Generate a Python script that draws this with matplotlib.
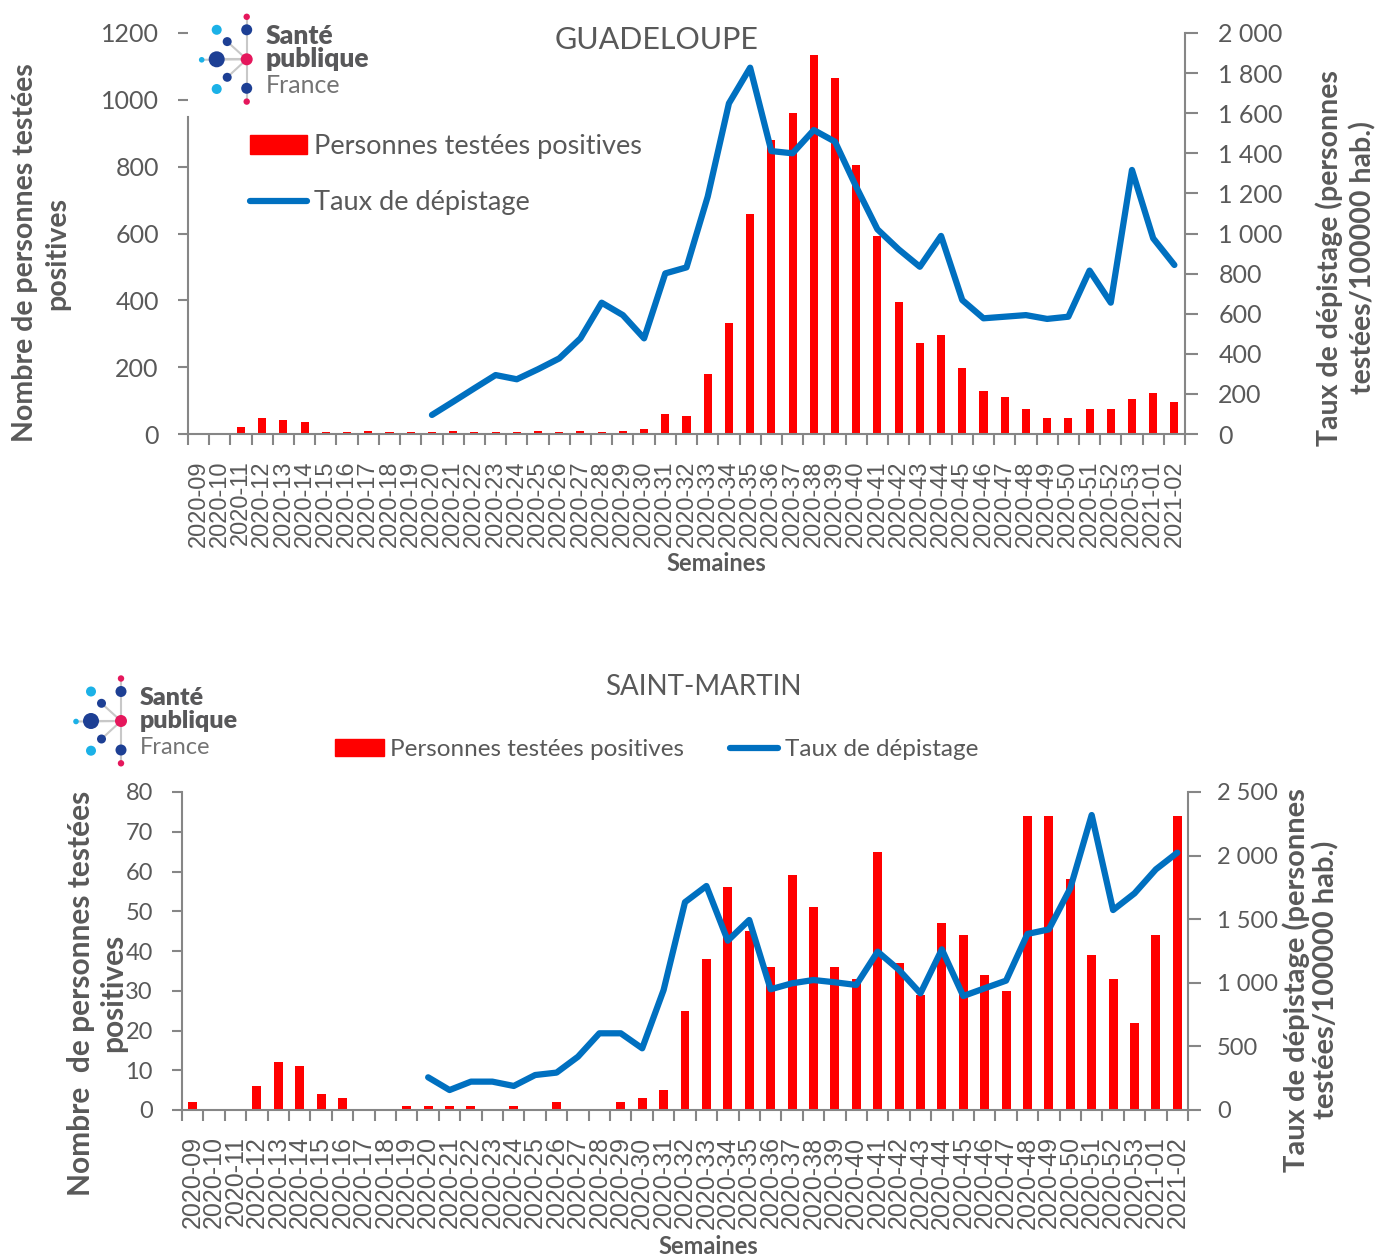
import matplotlib
matplotlib.use('Agg')
import matplotlib.pyplot as plt
from matplotlib.patches import Patch, Circle
from matplotlib.lines import Line2D
from matplotlib.ticker import FixedLocator, FuncFormatter
import numpy as np

# ---------------- data ----------------
weeks = ['2020-%02d' % w for w in range(9, 54)] + ['2021-01', '2021-02']

gp_positives = [0, 0, 22, 47, 42, 36, 7, 6, 8, 7, 6, 7, 8, 7, 6, 7, 8, 7, 8, 7, 9,
                16, 60, 54, 179, 333, 657, 881, 960, 1135, 1065, 804, 594, 395, 271,
                296, 197, 129, 110, 74, 48, 48, 74, 74, 104, 122, 97]
gp_rate = [np.nan] * 11 + [95, 161, 228, 294, 273, 323, 377, 477, 655, 593, 477, 801,
                           831, 1184, 1649, 1827, 1411, 1400, 1516, 1458, 1233, 1021,
                           921, 834, 988, 668, 577, 585, 593, 574, 585, 815, 655, 1317,
                           976, 843]

sm_positives = [2, 0, 0, 6, 12, 11, 4, 3, 0, 0, 1, 1, 1, 1, 0, 1, 0, 2, 0, 0, 2, 3, 5,
                25, 38, 56, 45, 36, 59, 51, 36, 33, 65, 37, 29, 47, 44, 34, 30, 74, 74,
                58, 39, 33, 22, 44, 74]
sm_rate = [np.nan] * 11 + [257, 157, 223, 223, 189, 275, 294, 419, 603, 603, 485, 943,
                           1634, 1761, 1331, 1494, 949, 996, 1022, 1004, 983, 1245, 1101,
                           917, 1263, 896, 957, 1017, 1384, 1420, 1743, 2319, 1572, 1703,
                           1892, 2023]

label_pos = 'Personnes testées positives'
label_rate = 'Taux de dépistage'

# ---------------- style ----------------
W, H = 1378, 1259
FONT = ['Lato', 'DejaVu Sans']
TXT = '#595959'
SPINE = '#868686'
RED = '#FF0000'
BLUE = '#0070C0'
plt.rcParams['font.family'] = FONT

fig = plt.figure(figsize=(W / 100, H / 100), dpi=100)


def px_axes(left, top, right, bottom):
    return fig.add_axes([left / W, 1 - bottom / H, (right - left) / W, (bottom - top) / H])


def space_fmt(v, pos):
    return '{:,}'.format(int(round(v))).replace(',', ' ')


def make_chart(box, pos, rate, lmax, lstep, rmax, rstep, barw, xfs, yfs, lpad, rpad,
               left_bound=None):
    ax = px_axes(*box)
    x = np.arange(len(weeks))
    ax.bar(x, pos, width=barw, color=RED, zorder=2)
    ax.set_xlim(-0.5, len(weeks) - 0.5)
    ax.set_ylim(0, lmax)
    ax.set_yticks(np.arange(0, lmax + 1, lstep))
    ax.set_xticks(x)
    ax.set_xticklabels(weeks, rotation=90, family=['Liberation Sans', 'DejaVu Sans'],
                       fontsize=xfs, color=TXT)
    ax.xaxis.set_minor_locator(FixedLocator(np.arange(-0.5, len(weeks), 1.0)))
    ax.tick_params(axis='x', which='major', length=0, pad=19)
    ax.tick_params(axis='x', which='minor', length=8, width=1.5, color=SPINE)
    ax.tick_params(axis='y', length=7, width=1.5, color=SPINE, labelsize=yfs,
                   labelcolor=TXT, pad=lpad)
    for s in ['top', 'right']:
        ax.spines[s].set_visible(False)
    for s in ['left', 'bottom']:
        ax.spines[s].set_color(SPINE)
        ax.spines[s].set_linewidth(1.5)
    if left_bound is not None:
        ax.spines['left'].set_bounds(0, left_bound)
    ax2 = ax.twinx()
    ax2.plot(x, rate, color=BLUE, lw=4.5, solid_capstyle='round', solid_joinstyle='round',
             zorder=3)
    ax2.set_ylim(0, rmax)
    ax2.set_yticks(np.arange(0, rmax + 1, rstep))
    ax2.yaxis.set_major_formatter(FuncFormatter(space_fmt))
    ax2.tick_params(axis='y', length=9, width=1.5, color=SPINE, labelsize=yfs,
                    labelcolor=TXT, pad=rpad)
    for s in ['top', 'left', 'bottom']:
        ax2.spines[s].set_visible(False)
    ax2.spines['right'].set_color(SPINE)
    ax2.spines['right'].set_linewidth(1.5)
    return ax, ax2


# ---------------- top chart: Guadeloupe ----------------
axA, axA2 = make_chart((188, 33, 1185, 434), gp_positives, gp_rate, 1200, 200, 2000, 200,
                       0.38, 17, 18, 14, 15, left_bound=950)
handles = [Patch(color=RED), Line2D([], [], color=BLUE, lw=4.5, solid_capstyle='round')]
axA2.legend(handles, [label_pos, label_rate], loc='upper left',
            bbox_to_anchor=(250 / W, 1 - 134 / H), bbox_transform=fig.transFigure,
            frameon=False, fontsize=19.5, handlelength=2.1, handleheight=0.65,
            handletextpad=0.25, labelspacing=1.15, borderpad=0, borderaxespad=0,
            labelcolor=TXT)

# ---------------- bottom chart: Saint-Martin ----------------
axB, axB2 = make_chart((182, 792, 1188, 1110), sm_positives, sm_rate, 80, 10, 2500, 500,
                       0.42, 18, 17, 14, 12)
axB2.legend(handles, [label_pos, label_rate], loc='upper left', ncol=2,
            bbox_to_anchor=(335 / W, 1 - 739 / H), bbox_transform=fig.transFigure,
            frameon=False, fontsize=17.5, handlelength=2.0, handleheight=0.65,
            handletextpad=0.25, columnspacing=1.9, borderpad=0, borderaxespad=0,
            labelcolor=TXT)

# ---------------- overlay (texts and logos, pixel coords) ----------------
ov = fig.add_axes([0, 0, 1, 1], zorder=10)
ov.set_xlim(0, W)
ov.set_ylim(H, 0)
ov.axis('off')

ov.text(657, 40, 'GUADELOUPE', ha='center', va='center', fontsize=22, color=TXT)
ov.text(703, 687, 'SAINT-MARTIN', ha='center', va='center', fontsize=20, color=TXT)
ov.text(716, 563, 'Semaines', ha='center', va='center', fontsize=17, color=TXT,
        fontweight='bold')
ov.text(708, 1247, 'Semaines', ha='center', va='center', fontsize=17, color=TXT,
        fontweight='bold')
ov.text(41, 253, 'Nombre de personnes testées\npositives', rotation=90, ha='center',
        va='center', multialignment='center', fontsize=20.5, color=TXT, fontweight='bold',
        linespacing=1.3)
ov.text(1346, 258, 'Taux de dépistage (personnes\ntestées/100000 hab.)', rotation=90,
        ha='center', va='center', multialignment='center', fontsize=20.5, color=TXT,
        fontweight='bold', linespacing=1.3)
ov.text(97, 993, 'Nombre  de personnes testées\npositives', rotation=90, ha='center',
        va='center', multialignment='center', fontsize=21.5, color=TXT, fontweight='bold',
        linespacing=1.15)
ov.text(1311, 980, 'Taux de dépistage (personnes\ntestées/100000 hab.)', rotation=90,
        ha='center', va='center', multialignment='center', fontsize=21, color=TXT,
        fontweight='bold', linespacing=1.12)

LB = '#1BB1E7'
DB = '#1D3F94'
PK = '#E5175C'
GR = '#C8C8C8'


def logo(cx, cy, fs):
    dots = [(0, -42.5, 3.2, PK), (0, -29.5, 5.5, DB), (-30, -29.5, 5, LB),
            (-19.5, -17.7, 4.5, DB), (-30, 0, 8, DB), (-45, 0.5, 2.8, LB),
            (0, 0, 6, PK), (-19.5, 18, 4.5, DB), (-30, 29.7, 5, LB),
            (0, 29, 5.5, DB), (0, 42.3, 3.2, PK)]
    ov.plot([cx, cx], [cy - 42, cy + 42], color=GR, lw=1.5, zorder=1)
    for dx, dy in [(-30, 0), (-19.5, -17.7), (-19.5, 18), (-45, 0.5)]:
        ov.plot([cx, cx + dx], [cy, cy + dy], color=GR, lw=1.5, zorder=1)
    for dx, dy, r, c in dots:
        ov.add_patch(Circle((cx + dx, cy + dy), r, color=c, zorder=2, lw=0))
    ov.text(cx + 19, cy - 23, 'Santé', fontsize=fs, fontweight='heavy', color='#58585A',
            ha='left', va='center')
    ov.text(cx + 19, cy + 0, 'publique', fontsize=fs, fontweight='heavy', color='#58585A',
            ha='left', va='center')
    ov.text(cx + 19, cy + 26, 'France', fontsize=fs - 1, color='#747474', ha='left',
            va='center')


logo(246.7, 59.3, 19)
logo(121, 721, 18)

fig.savefig('out.png', dpi=100, facecolor='white')
